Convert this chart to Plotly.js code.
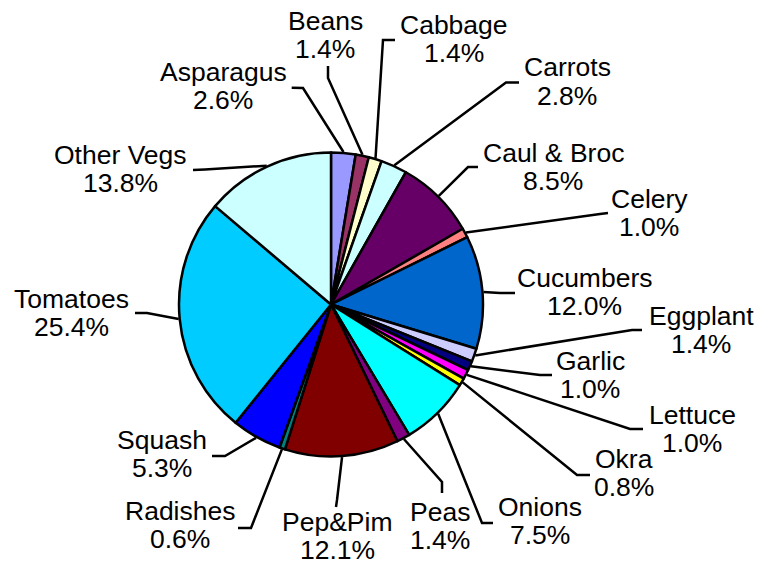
<!DOCTYPE html>
<html><head><meta charset="utf-8">
<script src="https://cdn.plot.ly/plotly-3.0.1.min.js"></script>
<style>html,body{margin:0;padding:0;background:#fff}#chart{width:759px;height:564px}</style>
</head><body><div id="chart"></div>
<script>
// ---- data ----
const categories = ['Asparagus','Beans','Cabbage','Carrots','Caul & Broc','Celery','Cucumbers','Eggplant','Garlic','Lettuce','Okra','Onions','Peas','Pep&Pim','Radishes','Squash','Tomatoes','Other Vegs'];
const shares = [2.6,1.4,1.4,2.8,8.5,1.0,12.0,1.4,1.0,1.0,0.8,7.5,1.4,12.1,0.6,5.3,25.4,13.8];

// ---- styles ----
const sliceColors = ['#9999FF','#993366','#FFFFCC','#CCFFFF','#660066','#FF8080','#0066CC','#CCCCFF','#000080','#FF00FF','#FFFF00','#00FFFF','#800080','#800000','#008080','#0000FF','#00CCFF','#CCFFFF'];

// ---- layout: label positions in pixels [x, y of name line, y of percent line] ----
const labelPos = [
  [223,72,100],[325,20.5,48.5],[454,25,53],[567,67.5,95.5],[553,153,181],[649,199,227],
  [584.5,277.5,305.5],[701,316,344],[590,361,389],[692,414.5,442.5],[624,459,487],[539.5,506.5,534.5],
  [440,511.5,539.5],[337,521.5,549.5],[179.5,511,539],[162,440,468],[71,299,327],[120,155,183]
];
// leader hook points near the labels (pixels) [x1,y1,x2,y2]
const hooks = [
  [291.7,87.7,303,88],[328,66,328,78],[395,40,383,40],[519,82.5,506,82.5],[478,167,468,167],[608,213,600,214],
  [515,293,500,293],[642,330,632,330],[552,375,540,375],[643,429,630,429],[590,475,577,475],[493,523,482,523],
  [442,493,442,482],[336,507,337,500],[238,528,251,528],[212,456,225,456],[135,313,147,313],[193,170,205,169.5]
];

const W = 759, H = 564;
const CX = 331, CY = 304.5, R = 152;
const px = p => p / W;
const py = p => 1 - p / H;

const total = shares.reduce((a,b)=>a+b,0);
const annotations = [];
const shapes = [];
let cum = 0;
const font = {family:'Liberation Sans, Arial, sans-serif', size:26.5, color:'#000'};
shares.forEach((v,i)=>{
  const mid = (cum + v/2) / total * 2 * Math.PI;
  cum += v;
  const ex = CX + (R+1) * Math.sin(mid);
  const ey = CY - (R+1) * Math.cos(mid);
  const h = hooks[i];
  shapes.push({type:'path', xref:'paper', yref:'paper',
    path:`M ${px(h[0])} ${py(h[1])} L ${px(h[2])} ${py(h[3])} L ${px(ex)} ${py(ey)}`,
    line:{color:'#000', width:2.5}});
  const lp = labelPos[i];
  annotations.push({x:px(lp[0]), y:py(lp[1]), xref:'paper', yref:'paper', text:categories[i],
    showarrow:false, xanchor:'center', yanchor:'middle', font});
  annotations.push({x:px(lp[0]), y:py(lp[2]), xref:'paper', yref:'paper',
    text:(v/total*100).toFixed(1)+'%', showarrow:false, xanchor:'center', yanchor:'middle', font});
});

const trace = {
  type:'pie', values:shares, labels:categories, sort:false, direction:'clockwise', rotation:0,
  marker:{colors:sliceColors, line:{color:'#000', width:2.5}},
  textinfo:'none', hoverinfo:'label+percent', showlegend:false,
  domain:{x:[(CX-R)/W,(CX+R)/W], y:[1-(CY+R)/H, 1-(CY-R)/H]}
};
const layout = {
  width:W, height:H, margin:{l:0,r:0,t:0,b:0}, paper_bgcolor:'#fff', plot_bgcolor:'#fff',
  showlegend:false, annotations, shapes
};
Plotly.newPlot('chart',[trace],layout,{displayModeBar:false, staticPlot:true});
</script></body></html>
